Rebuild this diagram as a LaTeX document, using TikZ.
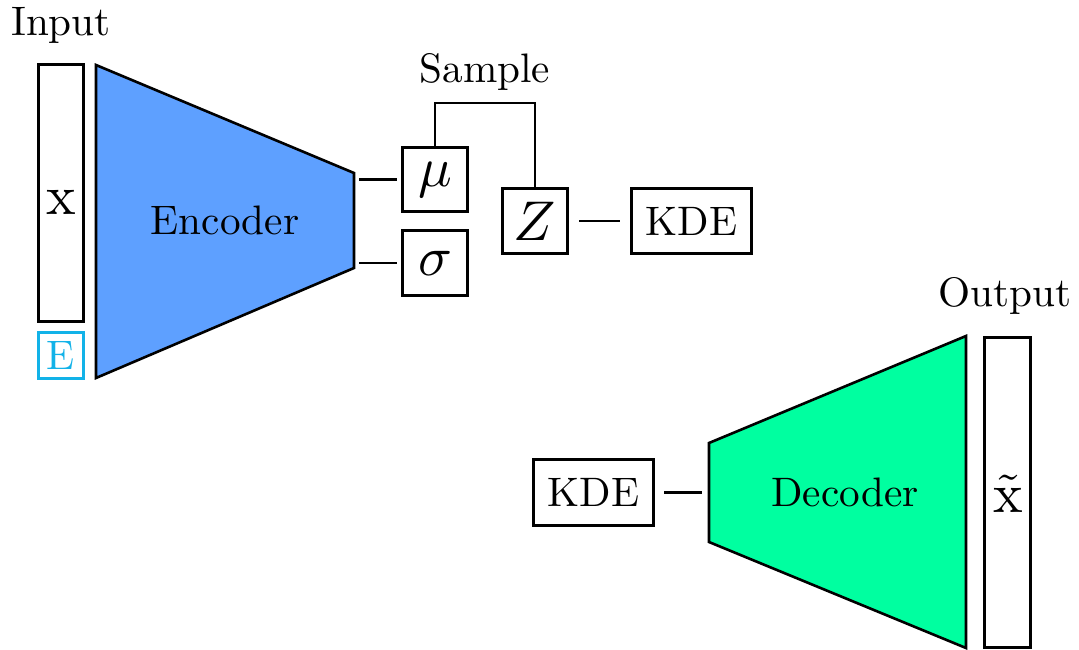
\documentclass[tikz,border=0pt]{standalone}
\definecolor{encblue}{RGB}{94,160,255}
\definecolor{decgreen}{RGB}{0,255,160}
\definecolor{ecyan}{RGB}{18,178,232}
\newcommand{\mysym}[1]{\scalebox{5.6}{$#1$}}
\newcommand{\tx}[1]{\scalebox{4.12}{\fontsize{10}{12}\selectfont #1}}
\begin{document}
\begin{tikzpicture}[x=1pt,y=-1pt,
  every node/.style={font=\normalsize, inner sep=0pt},
  box/.style={draw, line width=2.6pt, line join=miter},
  link/.style={line width=2.6pt, line join=miter},
  trap/.style={draw, line width=2.6pt, line join=miter},
]
\useasboundingbox (0,0) rectangle (1079,650);

% Input side
\node[anchor=base] (input) at (61,36) {\tx{Input}};
\node[box, minimum width=45.5pt, minimum height=257.5pt] (xbox) at (61,193) {};
\node (xlbl) at (61,202) {\mysym{\mathrm{x}}};
\node[box, draw=ecyan, text=ecyan, minimum width=45.5pt, minimum height=46.5pt] (ebox) at (61,355.5) {\tx{E}};

% Encoder
\path[trap, fill=encblue] (96,65) coordinate (e1) -- (354,173) coordinate (e2) -- (354,268) coordinate (e3) -- (96,378) coordinate (e4) -- cycle;
\node (enc) at (225,220) {\tx{Encoder}};

% latent boxes
\node[box, minimum width=65.5pt, minimum height=64.5pt] (mu) at (435,179.5) {\mysym{\mu}};
\node[box, minimum width=65.5pt, minimum height=65pt] (sigma) at (435,263) {\mysym{\sigma}};
\node[box, minimum width=65.5pt, minimum height=65.5pt] (z) at (535,221) {\mysym{Z}};
\node[box, minimum width=120.5pt, minimum height=65.5pt] (kde1) at (691.5,221) {\tx{KDE}};

\coordinate (encmu) at (354,179.5);
\coordinate (encsig) at (354,263);
\draw[link, shorten <=5pt, shorten >=4pt] (encmu) -- (mu.west);
\draw[link, shorten <=5pt, shorten >=4pt] (encsig) -- (sigma.west);

\node[anchor=base] (sample) at (485,83) {\tx{Sample}};
\coordinate (stop) at (485,103);
\draw[link] (mu.north) |- (stop) -| (z.north);

\draw[link, shorten <=10pt, shorten >=10pt] (z.east) -- (kde1.west);

% Decoder side
\node[box, minimum width=120.5pt, minimum height=66.5pt] (kde2) at (593.5,492.5) {\tx{KDE}};
\path[trap, fill=decgreen] (709,443) coordinate (d1) -- (966,336) coordinate (d2) -- (966,648) coordinate (d3) -- (709,542) coordinate (d4) -- cycle;
\node (dec) at (845,492) {\tx{Decoder}};
\coordinate (decin) at (709,492.5);
\draw[link, shorten <=9pt, shorten >=7pt] (kde2.east) -- (decin);

\node[box, minimum width=46.5pt, minimum height=310.5pt] (obox) at (1007.5,492.5) {};
\node (xt) at (1008,494) {\mysym{\tilde{\mathrm{x}}}};
\node[anchor=base] (output) at (1005,306) {\tx{Output}};
\end{tikzpicture}
\end{document}
